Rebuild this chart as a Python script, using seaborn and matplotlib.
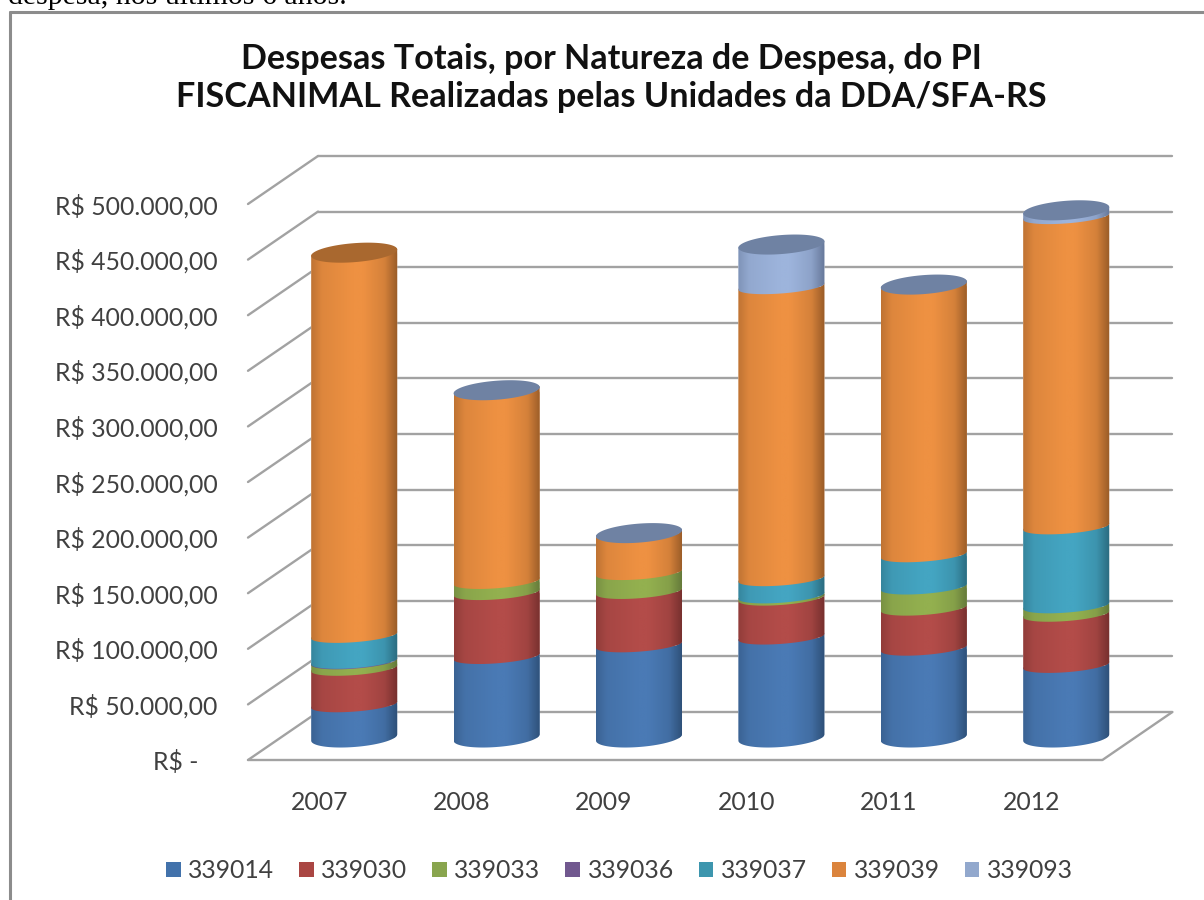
#!/usr/bin/env python

import numpy as np
import seaborn as sns
import matplotlib

matplotlib.use("Agg")
import matplotlib.pyplot as plt
from matplotlib.lines import Line2D
from matplotlib.patches import ConnectionPatch, Patch
from matplotlib.path import Path

years = ["2007", "2008", "2009", "2010", "2011", "2012"]
codes = ["339014", "339030", "339033", "339036", "339037", "339039", "339093"]

v339014 = [29600, 73000, 83500, 90500, 80500, 65000]
v339030 = [32800, 57500, 48000, 35000, 36000, 46000]
v339033 = [5800, 10000, 17000, 2000, 19000, 7600]
v339036 = [500, 0, 0, 0, 0, 0]
v339037 = [23300, 0, 0, 15500, 29000, 71000]
v339039 = [344000, 171500, 35000, 262600, 242500, 279000]
v339093 = [0, 300, 300, 37700, 300, 5500]
series = [v339014, v339030, v339033, v339036, v339037, v339039, v339093]

y_ticks = [0, 50000, 100000, 150000, 200000, 250000, 300000, 350000, 400000, 450000, 500000]

# flat colour, bright centre of the cylinder, dark edge, colour of the lid
flat = ["#4272ab", "#aa4643", "#89a54e", "#71588f", "#3d96ae", "#db843d", "#92a8cd"]
bright = ["#4a7ab5", "#b34c49", "#93b04f", "#7a5f9c", "#44a5c2", "#ee9142", "#9db4dc"]
dark = ["#2e5078", "#76302e", "#64793a", "#4f3e66", "#2b6c80", "#9a5c28", "#67799b"]
lids = ["#3a6496", "#8f3c3a", "#76903f", "#5e4a78", "#33809a", "#a9682f", "#6f82a3"]

W, H = 1204, 900
PX_PER_VALUE = 556 / 500000
ELL_B = 9.5 / PX_PER_VALUE
ELL_B_INNER = 7 / PX_PER_VALUE
ELL_TILT = 3.2 / PX_PER_VALUE
GRID = "#a2a2a2"
TEXT = "#404040"
FONT = "Lato"
LABEL_SIZE = 17.8


def plane_axes(fig, left, zero_y, zorder, bottom_value=0):
    """Axes for one depth plane, all planes share the same scales."""
    bottom_px = zero_y - bottom_value * PX_PER_VALUE
    top_px = zero_y - 500000 * PX_PER_VALUE
    ax = fig.add_axes([left / W, 1 - bottom_px / H, 854.4 / W, (bottom_px - top_px) / H])
    ax.set_ylim(bottom_value, 500000)
    ax.set_xlim(-0.5, 5.5)
    ax.patch.set_alpha(0)
    ax.set_zorder(zorder)
    return ax


def fmt_money(v):
    if v == 0:
        return "R$ -   "
    return f"R$ {v:,.2f}".replace(",", "#").replace(".", ",").replace("#", ".")


def lower_curve(cx, half, y, depth):
    t = np.linspace(0, np.pi, 50)
    return cx - half * np.cos(t), y - ELL_TILT * np.cos(t) - depth * np.sin(t)


def upper_curve(cx, half, y, depth):
    t = np.linspace(np.pi, 0, 50)
    return cx - half * np.cos(t), y - ELL_TILT * np.cos(t) + depth * np.sin(t)


def shade(c_bright, c_dark):
    pos = np.linspace(0, 1, 64)
    amount = np.interp(pos, [0, 0.12, 0.48, 0.6, 0.85, 1], [0.55, 0.2, 0, 0, 0.3, 1])
    a = np.array(matplotlib.colors.to_rgb(c_bright))
    b = np.array(matplotlib.colors.to_rgb(c_dark))
    return (a + (b - a) * amount[:, None])[None, :, :]


def draw_cylinders(ax):
    cum = np.zeros(len(years))
    for i, (code, vals) in enumerate(zip(codes, series)):
        n_before = len(ax.patches)
        sns.barplot(
            x=years,
            y=vals,
            bottom=cum,
            color=flat[i],
            saturation=1,
            width=0.604,
            errorbar=None,
            ax=ax,
        )
        for j, bar in enumerate(ax.patches[n_before:]):
            bar.set_zorder(2 + i)
            if vals[j] == 0:
                bar.set_visible(False)
                continue
            half = bar.get_width() / 2
            cx = bar.get_x() + half
            y0, y1 = bar.get_y(), bar.get_y() + bar.get_height()
            # the foot of the cylinder bulges more than the joins between series
            xb, yb = lower_curve(cx, half, y0, ELL_B if y0 == 0 else ELL_B_INNER)
            xt, yt = upper_curve(cx, half, y1, ELL_B_INNER)
            path = Path(np.column_stack([np.r_[xb, xt], np.r_[yb, yt]]))
            bar.set_clip_path(path, ax.transData)
            im = ax.imshow(
                shade(bright[i], dark[i]),
                extent=(cx - half, cx + half, y0 - 2 * ELL_B, y1 + 2 * ELL_B),
                aspect="auto",
                interpolation="bilinear",
                zorder=2.5 + i,
            )
            im.set_clip_path(path, ax.transData)
        cum = cum + np.array(vals)
    # lids, coloured after the last series that has a value in that year
    for j in range(len(years)):
        last = max(i for i in range(len(series)) if series[i][j] > 0)
        half = 0.302
        xt, yt = upper_curve(j, half, cum[j], ELL_B)
        xb, yb = lower_curve(j, half, cum[j], ELL_B)
        ax.fill(np.r_[xt, xb], np.r_[yt, yb], color=lids[last], lw=0, zorder=20)


sns.set_theme(style="white")
plt.rcParams["font.family"] = [FONT, "DejaVu Sans"]

fig = plt.figure(figsize=(W / 100, H / 100), dpi=100, facecolor="white")

back = plane_axes(fig, 318, 712, 0)
front = plane_axes(fig, 248, 760, 1)
bars = plane_axes(fig, 283, 737.5, 5, bottom_value=-25000)

sns.despine(ax=back, left=True, bottom=True)
back.set_xticks([])
back.set_yticks([])
for v in y_ticks:
    back.plot([0, 1], [v, v], transform=back.get_yaxis_transform(), color=GRID, lw=1.7, clip_on=False)

sns.despine(ax=front, left=True, bottom=True)
front.set_xticks(range(len(years)))
front.set_xticklabels(years)
front.set_yticks(y_ticks)
front.set_yticklabels([fmt_money(v) for v in y_ticks])
front.tick_params(axis="y", length=0, pad=22, labelsize=LABEL_SIZE, labelcolor=TEXT)
front.tick_params(axis="x", length=0, pad=22, labelsize=LABEL_SIZE, labelcolor=TEXT)
front.plot([0, 1], [0, 0], transform=front.get_yaxis_transform(), color=GRID, lw=1.7, clip_on=False)

# side lines between the front plane and the back wall
for v in y_ticks:
    fig.add_artist(
        ConnectionPatch(
            xyA=(-0.5, v), coordsA=front.transData, xyB=(-0.5, v), coordsB=back.transData,
            color=GRID, lw=1.7, zorder=0,
        )
    )
fig.add_artist(
    ConnectionPatch(
        xyA=(5.5, 0), coordsA=front.transData, xyB=(5.5, 0), coordsB=back.transData,
        color=GRID, lw=1.7, zorder=0,
    )
)

sns.despine(ax=bars, left=True, bottom=True)
draw_cylinders(bars)
bars.set_xlim(-0.5, 5.5)
bars.set_ylim(-25000, 500000)
bars.set_xticks([])
bars.set_yticks([])
bars.set_xlabel("")
bars.set_ylabel("")

fig.text(
    611 / W, 1 - 78 / H,
    "Despesas Totais, por Natureza de Despesa, do PI\nFISCANIMAL Realizadas pelas Unidades da DDA/SFA-RS",
    ha="center", va="center", fontsize=24.6, fontweight="bold", color="#111111", linespacing=1.26,
)

handles = [Patch(facecolor=c, edgecolor="none") for c in flat]
fig.legend(
    handles, codes, ncol=7, loc="center", bbox_to_anchor=(619.5 / W, 1 - 871 / H),
    frameon=False, fontsize=LABEL_SIZE, labelcolor=TEXT,
    handlelength=0.6, handleheight=0.55, handletextpad=0.3, columnspacing=1.0,
)

# the report page around the chart: cut sentence and frame of the picture
fig.text(8 / W, 1 - 4 / H, "despesa, nos últimos 6 anos.", family="Liberation Serif",
         fontsize=21.5, color="black", ha="left", va="baseline")
fig.add_artist(Line2D([10 / W, 10 / W], [0, 1 - 11.5 / H], color="#8c8c8c", lw=2.2))
fig.add_artist(Line2D([10 / W, 1], [1 - 11.5 / H, 1 - 11.5 / H], color="#8c8c8c", lw=2.2))

fig.savefig("out.png", dpi=100)
